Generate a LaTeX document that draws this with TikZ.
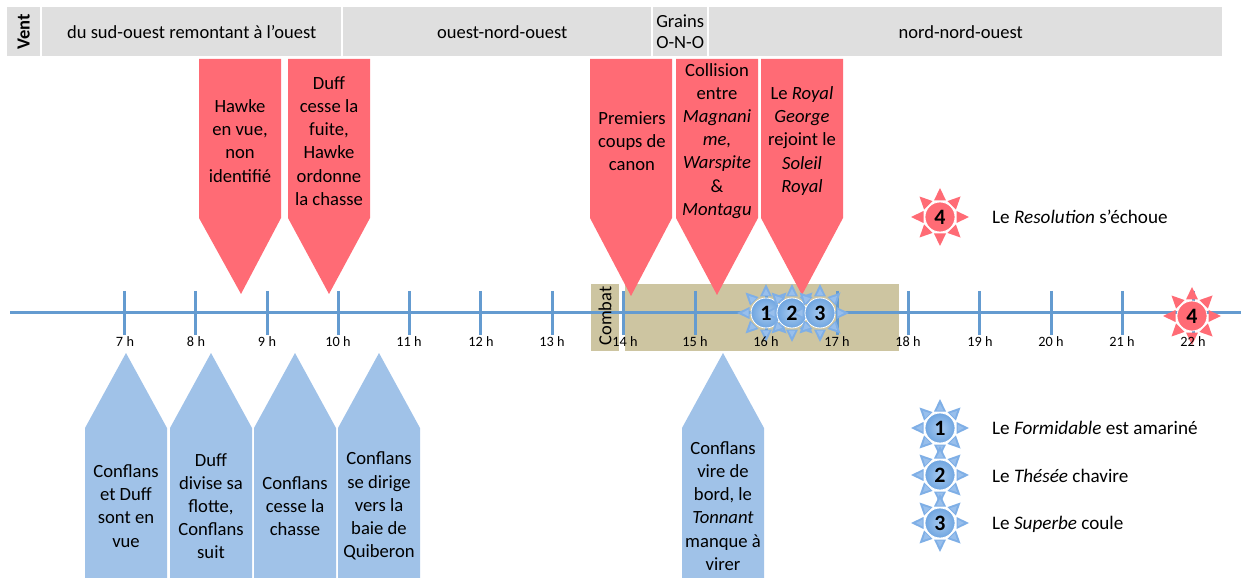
\documentclass[tikz,border=0pt]{standalone}
\usepackage{fontspec}
\setmainfont{Carlito}
\definecolor{windgray}{HTML}{DFDFDF}
\definecolor{redc}{HTML}{FF6B75}
\definecolor{bluec}{HTML}{A0C2E8}
\definecolor{axisblue}{HTML}{649BD0}
\definecolor{khaki}{HTML}{CDC5A1}
\definecolor{sunblue}{HTML}{6FA5E0}
\definecolor{sunray}{HTML}{7FAFE6}
\definecolor{sunrayin}{HTML}{98BFEC}
\definecolor{sunlight}{HTML}{A9CBF0}
\tikzset{
  wind/.style={fill=windgray,draw=none,minimum height=49bp,anchor=north west,inner sep=0pt,align=center,font=\fontsize{18.6}{21}\selectfont},
  calltext/.style={anchor=center,align=center,inner sep=0pt,font=\fontsize{18.7}{23.2}\selectfont},
  calloutfill/.style={fill=#1,draw=none},
  tickline/.style={axisblue,line width=3bp},
  hour/.style={font=\fontsize{14.3}{16}\selectfont,inner sep=0pt,anchor=center},
  legend/.style={font=\fontsize{19.2}{22}\selectfont,anchor=west,inner sep=0pt},
  suntext/.style={font=\fontsize{22}{24}\bfseries\selectfont,inner sep=0pt},
  bluesun/.pic={
    \foreach \a in {0,45,...,315}{
      \fill[sunray,rotate=\a] (16.5,-6) -- (29,0) -- (16.5,6) -- cycle;
      \fill[sunrayin,rotate=\a] (17.5,-3.5) -- (24,0) -- (17.5,3.5) -- cycle;
    }
    \shade[inner color=sunlight,outer color=sunblue,draw=white,line width=.8bp] (0,0) circle (15);
  },
  redsun/.pic={
    \foreach \a in {0,45,...,315}{
      \fill[redc,rotate=\a] (16.5,-6) -- (29,0) -- (16.5,6) -- cycle;
    }
    \fill[redc,draw=white,line width=.8bp] (0,0) circle (15);
  },
}
\newcommand{\downcall}[4]{% left, right, tip x, tip y
  \fill[calloutfill=redc] (#1,59) -- (#2,59) -- (#2,218) -- (#3,#4) -- (#1,218) -- cycle;
}
\newcommand{\upcall}[3]{% left, right, apex
  \fill[calloutfill=bluec] (#1,428) -- (#3,353) -- (#2,428) -- (#2,578) -- (#1,578) -- cycle;
}
\begin{document}
\begin{tikzpicture}[x=1bp,y=-1bp]
\useasboundingbox (0,0) rectangle (1241,578);
% wind bar
\node[wind,minimum width=33bp] (wv) at (7,7) {\rotatebox{90}{\textbf{Vent}}};
\node[wind,minimum width=299bp] (w1) at (42,7) {du sud-ouest remontant à l’ouest};
\node[wind,minimum width=308bp] (w2) at (343,7) {\hspace*{10bp}ouest-nord-ouest};
\node[wind,minimum width=54bp] (w3) at (653,7) {Grains\\O-N-O};
\node[wind,minimum width=513bp] (w4) at (709,7) {nord-nord-ouest\hspace*{10bp}};
% combat background
\fill[khaki] (591,284) rectangle (619,351);
\fill[khaki] (625,284) rectangle (899,351);
% axis
\coordinate (axL) at (10,313);
\coordinate (axR) at (1241,313);
\draw[axisblue,line width=3bp] (axL) -- (axR);
\foreach \x in {124,195.5,267,338,409,480,552,623,695,766,837,908,979,1051,1122,1193}{
  \draw[tickline] (\x,291) -- (\x,335);
}
\node[rotate=90,font=\fontsize{18.5}{20}\selectfont,inner sep=0pt] (combat) at (605,316) {Combat};
% red callouts
\downcall{199}{281}{241}{294}
\downcall{288}{370}{329}{294}
\downcall{590}{672}{631}{296}
\downcall{676}{758}{717}{295}
\downcall{761}{843}{802}{295}
\node[calltext] (r1) at (240,141) {Hawke\\en vue,\\non\\identifié};
\node[calltext] (r2) at (329,141) {Duff\\cesse la\\fuite,\\Hawke\\ordonne\\la chasse};
\node[calltext] (r3) at (632,141) {Premiers\\coups de\\canon};
\node[calltext] (r4) at (717,141) {Collision\\entre\\\textit{Magnani}\\\textit{me,}\\\textit{Warspite}\\\&\\\textit{Montagu}};
\node[calltext] (r5) at (802,141) {Le \textit{Royal}\\\textit{George}\\rejoint le\\\textit{Soleil}\\\textit{Royal}};
% blue callouts
\upcall{85}{167}{126}
\upcall{170}{252}{211}
\upcall{254}{336}{295}
\upcall{338}{420}{379}
\upcall{682}{764}{723}
\node[calltext] (b1) at (126,506) {Conflans\\et Duff\\sont en\\vue};
\node[calltext] (b2) at (211,506) {Duff\\divise sa\\flotte,\\Conflans\\suit};
\node[calltext] (b3) at (295,506) {Conflans\\cesse la\\chasse};
\node[calltext] (b4) at (379,506) {Conflans\\se dirige\\vers la\\baie de\\Quiberon};
\node[calltext] (b5) at (723,506) {Conflans\\vire de\\bord, le\\\textit{Tonnant}\\manque à\\virer};
% suns on axis
\pic at (766,313) {bluesun};
\pic at (792,313) {bluesun};
\pic at (820,313) {bluesun};
\pic at (1192,316) {redsun};
\node[suntext] (s1) at (766,313) {1};
\node[suntext] (s2) at (792,313) {2};
\node[suntext] (s3) at (820,313) {3};
\node[suntext] (s4) at (1192,316) {4};
% hour labels
\foreach \x/\h in {125/7,196/8,267/9,338/10,409/11,481/12,552/13,625/14,695/15,766/16,837/17,908/18,980/19,1051/20,1122/21,1193/22}{
  \node[hour] (h\h) at (\x,342) {\h\hspace{.24em}h};
}
% legend
\pic at (940,217) {redsun};
\pic at (940,428) {bluesun};
\pic at (940,475) {bluesun};
\pic at (940,523) {bluesun};
\node[suntext] (l4) at (940,217) {4};
\node[suntext] (l1) at (940,428) {1};
\node[suntext] (l2) at (940,475) {2};
\node[suntext] (l3) at (940,523) {3};
\node[legend] (t4) at (992,217) {Le \textit{Resolution} s’échoue};
\node[legend] (t1) at (992,428) {Le \textit{Formidable} est amariné};
\node[legend] (t2) at (992,476) {Le \textit{Thésée} chavire};
\node[legend] (t3) at (992,524) {Le \textit{Superbe} coule};
\end{tikzpicture}
\end{document}
